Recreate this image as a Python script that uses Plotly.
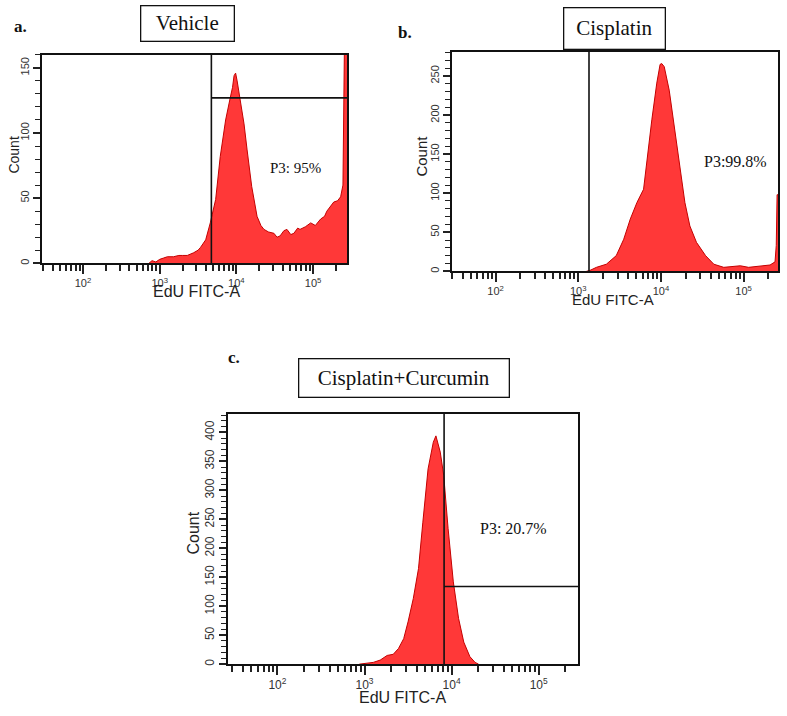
import plotly.graph_objects as go

# ---------------- data ----------------
# x values are log10(EdU FITC-A intensity); counts are histogram heights
a_log_edu = [2.86, 2.90, 2.95, 3.00, 3.05, 3.10, 3.18, 3.25, 3.30, 3.36, 3.44, 3.50, 3.53, 3.60,
             3.66, 3.73, 3.79, 3.86, 3.92, 3.95, 3.97, 3.99, 4.01, 4.04, 4.10, 4.14, 4.20,
             4.27, 4.32, 4.36, 4.42, 4.49, 4.53, 4.57, 4.62, 4.66, 4.71, 4.75, 4.80, 4.83,
             4.90, 4.97, 5.03, 5.10, 5.15, 5.18, 5.23, 5.27, 5.32, 5.36, 5.39, 5.40, 5.41, 5.443]
a_count = [0, 2, 1, 3, 4, 5, 5, 6, 6, 6, 8, 10, 12, 18,
           31, 49, 82, 110, 127, 135, 144, 146, 140, 130, 107, 87, 59,
           36, 29, 26, 24, 23, 20, 21, 25, 26, 22, 23, 27, 26,
           28, 31, 29, 34, 36, 40, 44, 47, 48, 51, 60, 100, 170, 170]

b_log_edu = [3.10, 3.14, 3.22, 3.34, 3.46, 3.55, 3.63, 3.71, 3.79, 3.83, 3.89, 3.95, 3.99,
             4.01, 4.04, 4.10, 4.16, 4.23, 4.29, 4.35, 4.43, 4.54, 4.64, 4.76, 4.86, 4.96,
             5.06, 5.16, 5.25, 5.32, 5.38, 5.395, 5.405, 5.416]
b_count = [0, 1, 5, 9, 20, 41, 67, 88, 105, 143, 194, 241, 265,
           266, 262, 232, 185, 130, 88, 58, 37, 20, 9, 5, 6, 7,
           5, 6, 7, 8, 12, 33, 98, 98]

c_log_edu = [2.94, 3.00, 3.10, 3.18, 3.26, 3.33, 3.39, 3.45, 3.50, 3.56, 3.62, 3.67, 3.73,
             3.79, 3.82, 3.87, 3.91, 3.96, 4.02, 4.08, 4.14, 4.21, 4.27, 4.31]
c_count = [0, 1, 3, 7, 15, 17, 27, 44, 73, 113, 165, 245, 337,
           383, 394, 366, 325, 234, 142, 79, 38, 13, 3, 0]

panel_titles = ["Vehicle", "Cisplatin", "Cisplatin+Curcumin"]
panel_letters = ["a.", "b.", "c."]
gate_labels = ["P3: 95%", "P3:99.8%", "P3: 20.7%"]
gate_x_log = [3.674, 3.13, 3.914]          # vertical gate position (log10)
gate_y = [127, None, 134]                  # horizontal gate level (count)
x_range_log = [[1.465, 5.443], [1.473, 5.416], [1.432, 5.452]]
y_max = [160, 281, 432]

major_vals = [100, 1000, 10000, 100000]
major_text = ["10<sup>2</sup>", "10<sup>3</sup>", "10<sup>4</sup>", "10<sup>5</sup>"]
minor_vals = [m * 10 ** e for e in range(1, 6) for m in range(2, 10)]

# ---------------- layout helpers ----------------
W, H = 787, 716


def px(x):
    return x / W


def py(y):
    return 1 - y / H


RED = "#ff3838"
EDGE = "#c40000"

fig = go.Figure()

series = [(a_log_edu, a_count), (b_log_edu, b_count), (c_log_edu, c_count)]
frames = [(42, 347, 55, 264), (452, 778, 52, 272), (228, 578, 415, 666)]
tick_font = [11, 11, 12]

for i, (lx, cnt) in enumerate(series):
    n = "" if i == 0 else str(i + 1)
    xa, ya = "x" + n, "y" + n
    xs = [10 ** v for v in lx]
    fig.add_trace(go.Scatter(x=xs, y=cnt, mode="lines", fill="tozeroy",
                             fillcolor=RED, line=dict(color=EDGE, width=1),
                             xaxis=xa, yaxis=ya, showlegend=False, hoverinfo="skip"))
    gx = 10 ** gate_x_log[i]
    xmax = 10 ** x_range_log[i][1]
    fig.add_trace(go.Scatter(x=[gx, gx], y=[0, y_max[i]], mode="lines",
                             line=dict(color="#111", width=1.6),
                             xaxis=xa, yaxis=ya, showlegend=False, hoverinfo="skip"))
    if gate_y[i] is not None:
        fig.add_trace(go.Scatter(x=[gx, xmax], y=[gate_y[i], gate_y[i]], mode="lines",
                                 line=dict(color="#111", width=1.6),
                                 xaxis=xa, yaxis=ya, showlegend=False, hoverinfo="skip"))
    x0, x1, y0, y1 = frames[i]
    fig.layout["xaxis" + n] = dict(
        type="log", range=x_range_log[i], domain=[px(x0), px(x1)], anchor=ya,
        showgrid=False, zeroline=False, showline=True, mirror=True,
        linecolor="#111", linewidth=1.5,
        tickmode="array", tickvals=major_vals, ticktext=major_text,
        ticks="outside", ticklen=9, tickwidth=1.5, tickcolor="#222",
        tickfont=dict(family="Liberation Sans, Arial", size=tick_font[i], color="#333"),
        minor=dict(tickmode="array", tickvals=minor_vals, ticks="outside",
                   ticklen=6, tickwidth=1.5, tickcolor="#222"),
    )
    fig.layout["yaxis" + n] = dict(
        range=[0, y_max[i]], domain=[py(y1), py(y0)], anchor=xa,
        showgrid=False, zeroline=False, showline=True, mirror=True,
        linecolor="#111", linewidth=1.5,
        dtick=50, tick0=0, ticks="outside", ticklen=7, tickwidth=1.5, tickcolor="#222",
        tickangle=-90,
        tickfont=dict(family="Liberation Sans, Arial", size=tick_font[i], color="#333"),
        minor=dict(dtick=10, tick0=0, ticks="outside", ticklen=5, tickwidth=1.3,
                   tickcolor="#222"),
    )

ann = []


def add_text(text, cx, cy, **kw):
    d = dict(text=text, x=px(cx), y=py(cy), xref="paper", yref="paper",
             xanchor="center", yanchor="middle", showarrow=False)
    d.update(kw)
    ann.append(d)


# title boxes
boxes = [(187, 24, 92, 34), (614, 29, 100, 40), (403.5, 379.5, 209, 37)]
for t, (cx, cy, bw, bh) in zip(panel_titles, boxes):
    add_text(t, cx, cy, width=bw, height=bh, borderpad=0,
             bordercolor="#111", borderwidth=1.3, bgcolor="white",
             font=dict(family="Liberation Serif, Times New Roman", size=21, color="#111"))
# panel letters
letters_pos = [(20, 27), (405, 33), (234, 359)]
for t, (cx, cy) in zip(panel_letters, letters_pos):
    add_text("<b>" + t + "</b>", cx, cy,
             font=dict(family="Liberation Serif, Times New Roman", size=17, color="#111"))
# gate labels
gate_pos = [(295, 168, 15), (735, 162, 16), (513, 530, 16)]
for t, (cx, cy, fs) in zip(gate_labels, gate_pos):
    add_text(t, cx, cy,
             font=dict(family="Liberation Serif, Times New Roman", size=fs, color="#111"))
# axis titles
count_pos = [(14, 156, 14), (422, 157, 15), (194, 535, 16)]
for cx, cy, fs in count_pos:
    add_text("Count", cx, cy, textangle=-90,
             font=dict(family="Liberation Sans, Arial", size=fs, color="#222"))
edu_pos = [(196, 292, 16), (613, 300, 15), (402, 699, 16)]
for cx, cy, fs in edu_pos:
    add_text("EdU FITC-A", cx, cy,
             font=dict(family="Liberation Sans, Arial", size=fs, color="#222"))

fig.update_layout(width=W, height=H, margin=dict(l=0, r=0, t=0, b=0),
                  paper_bgcolor="white", plot_bgcolor="white", annotations=ann)

fig.write_html("out.html", config={"displayModeBar": False},
               post_script="document.body.style.margin='0';document.body.style.overflow='hidden';")
